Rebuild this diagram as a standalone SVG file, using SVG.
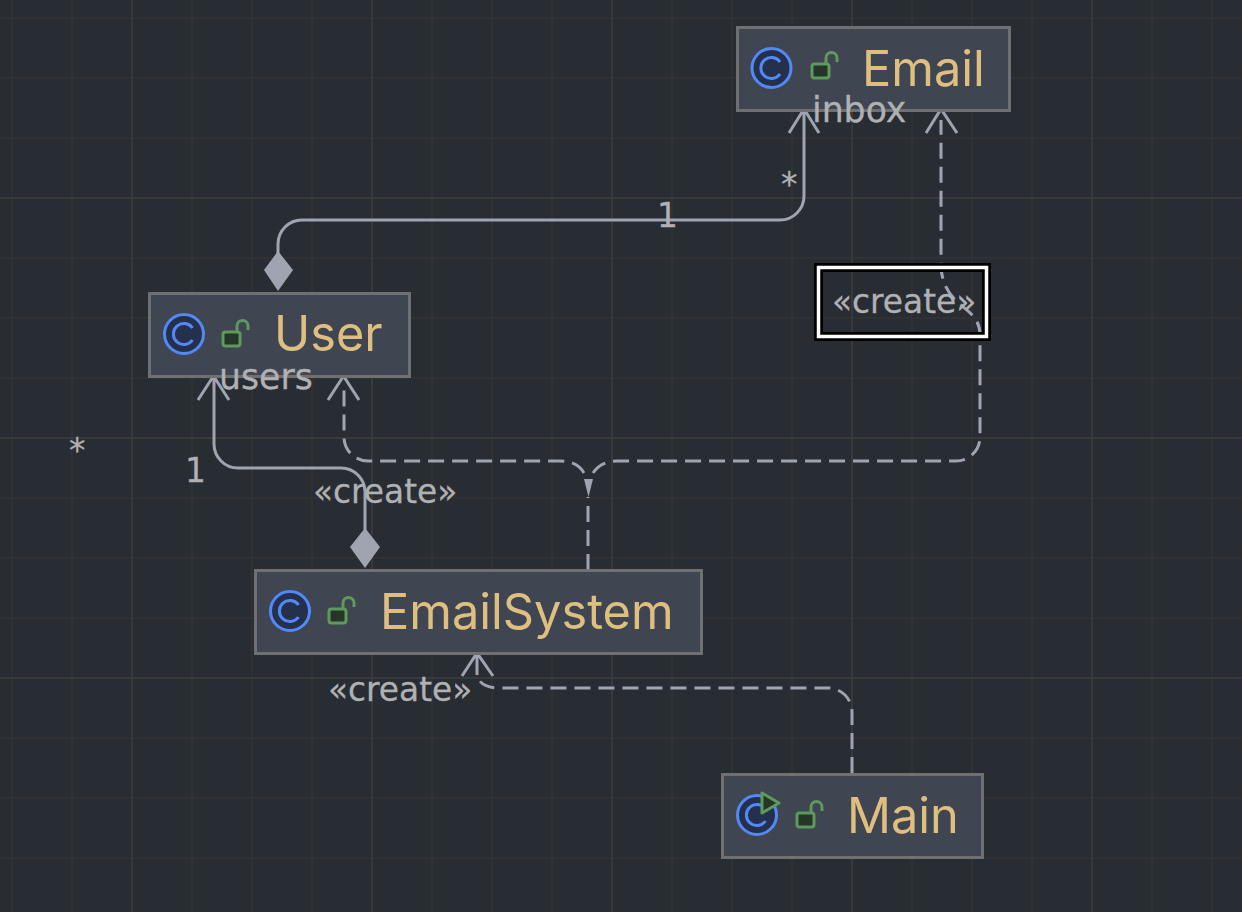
<svg xmlns="http://www.w3.org/2000/svg" width="1242" height="912" viewBox="0 0 1242 912">
<defs>
<pattern id="minor" x="11" y="17" width="60" height="60" patternUnits="userSpaceOnUse"><path d="M1 0V60M0 1H60" fill="none" stroke="#2f3134" stroke-width="2"/></pattern>
<g id="ic"><circle cx="0" cy="0" r="19.500" fill="#25324d" stroke="#548af7" stroke-width="3"/><path d="M8.500 -6A10.500 10.500 0 1 0 8.500 6" fill="none" stroke="#548af7" stroke-width="3"/></g>
<g id="lock"><rect x="-13" y="-2" width="17" height="14" rx="2.500" fill="#253627" stroke="#5f9a5f" stroke-width="3"/><path d="M1 -2V-8A5.500 5.500 0 0 1 12 -8V-4" fill="none" stroke="#5f9a5f" stroke-width="3"/></g>
</defs>
<style>
.box{fill:#414752;stroke:#6f7173;stroke-width:3}
.t{font-family:Inter,"Liberation Sans",sans-serif;font-size:48.700px;fill:#e0c080}
.l{font-family:"DejaVu Sans",sans-serif;font-size:32.800px;fill:#b1b2b4;stroke:#b1b2b4;stroke-width:.3px}
.w{font-size:34.700px}
.c{fill:none;stroke:#a0a4b1;stroke-width:3}
.d{stroke-dasharray:16 8}
.dm{fill:#a0a4b1}
.soft{opacity:.995}
</style>
<rect width="1242" height="912" fill="#282c33"/>
<rect width="1242" height="912" fill="url(#minor)"/>
<path d="M132 0V912M372 0V912M612 0V912M852 0V912M1092 0V912M0 198H1242M0 438H1242M0 678H1242" stroke="#38393a" stroke-width="2"/>
<g id="connectors">
<path class="c" d="M278 262V244A24 24 0 0 1 302 220H780A24 24 0 0 0 804 196V109M789 133L804 109L819 133"/>
<path class="dm" d="M278 251L293 270L278 291L264 270Z"/>
<path class="c" d="M365 530V492A24 24 0 0 0 341 468H238A24 24 0 0 1 214 444V376M198 400L213.500 376L229 400"/>
<path class="dm" d="M365 528L380 547L365 568L350 547Z"/>
<path class="c d" d="M588 570V497"/>
<path class="dm" d="M584 479H593L588.500 497Z"/>
<path class="c d" d="M584 473Q577 461 560 461H368A24 24 0 0 1 344 437V388"/>
<path class="c" d="M328 400L343.500 376L359 400"/>
<path class="c d" d="M593 473Q601 461 618 461H956A24 24 0 0 0 980 437V335C980 305 945 310 941 268V120"/>
<path class="c" d="M926 133L941 109L957 133"/>
<path class="c d" d="M852 773V712A24 24 0 0 0 828 688H500Q480 688 477 675"/>
<path class="c" d="M462 676L477 653L493 676M477 653V675"/>
</g>
<g id="email" class="soft"><rect class="box" x="737.500" y="27.500" width="272" height="83"/><use href="#ic" x="771.500" y="68"/><use href="#lock" x="825" y="66"/><text class="t" x="862" y="86">Email</text></g>
<g id="user" class="soft"><rect class="box" x="149.500" y="293.500" width="260" height="83"/><use href="#ic" x="184" y="334"/><use href="#lock" x="236" y="334"/><text class="t" x="274" y="351">User</text></g>
<g id="emailsystem" class="soft"><rect class="box" x="255.500" y="570.500" width="446" height="83"/><use href="#ic" x="290" y="611"/><use href="#lock" x="342" y="611"/><text class="t" x="380" y="629">EmailSystem</text></g>
<g id="main" class="soft"><rect class="box" x="722.500" y="774.500" width="260" height="83"/><use href="#ic" x="757" y="815"/><path d="M762 793L779 803L762 813Z" fill="#253627" stroke="#5f9a5f" stroke-width="3" stroke-linejoin="round"/><use href="#lock" x="810" y="815"/><text class="t" x="847" y="833">Main</text></g>
<g id="labels" class="soft">
<text class="l w" x="812" y="122">inbox</text>
<text class="l" x="781" y="196">*</text>
<text class="l" x="657" y="227">1</text>
<text class="l w" x="219" y="389">users</text>
<text class="l" x="69" y="462">*</text>
<text class="l" x="185" y="482">1</text>
<text class="l" x="313" y="503">«create»</text>
<text class="l" x="328" y="701">«create»</text>
<rect x="818.500" y="267.500" width="168" height="69" fill="none" stroke="#000" stroke-width="9"/>
<rect x="818.500" y="267.500" width="168" height="69" fill="none" stroke="#fff" stroke-width="3.500"/>
<text class="l" x="832" y="313">«create»</text>
</g>
</svg>
